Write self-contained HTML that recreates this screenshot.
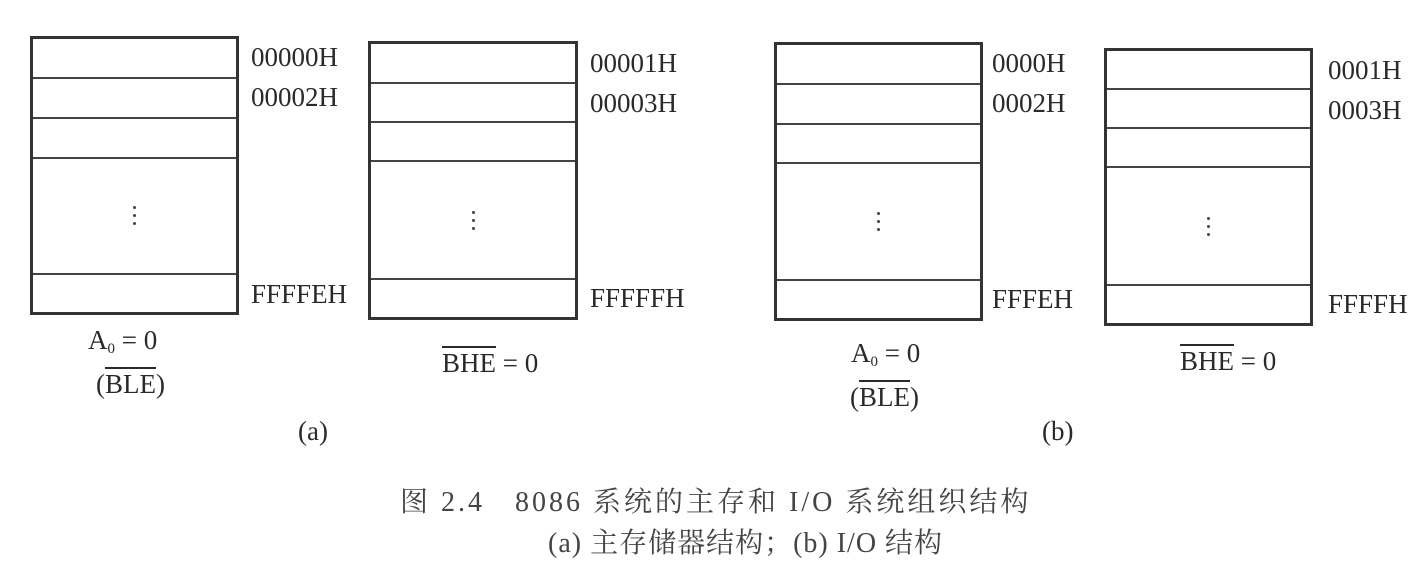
<!DOCTYPE html>
<html><head><meta charset="utf-8"><style>
body{margin:0;width:1415px;height:580px;background:#fff;position:relative;overflow:hidden;font-family:"Liberation Serif","Noto Serif CJK SC",serif;color:#2a2a2a}
.b{position:absolute;border:3px solid #333;box-sizing:border-box}
.l{position:absolute;left:0;right:0;height:0;border-top:2px solid #444}
.t{position:absolute;font-size:27px;line-height:1;white-space:nowrap}
.d{position:absolute;width:3px;height:3px;background:#444;border-radius:50%}
.ov{text-decoration:overline}
sub{font-size:15px;vertical-align:-4px}
</style></head><body>

<div class="b" style="left:30px;top:36px;width:209px;height:279px">
<div class="l" style="top:38px"></div><div class="l" style="top:78px"></div><div class="l" style="top:118px"></div><div class="l" style="top:234px"></div>
</div>
<div class="d" style="left:133px;top:206px"></div><div class="d" style="left:133px;top:214px"></div><div class="d" style="left:133px;top:222px"></div>
<div class="t" style="left:251px;top:44px">00000H</div>
<div class="t" style="left:251px;top:84px">00002H</div>
<div class="t" style="left:251px;top:281px">FFFFEH</div>
<div class="t" style="left:88px;top:327px">A<sub>0</sub> = 0</div>
<div class="t" style="left:96px;top:371px">(<span class="ov">BLE</span>)</div>

<div class="b" style="left:368px;top:41px;width:210px;height:279px">
<div class="l" style="top:38px"></div><div class="l" style="top:77px"></div><div class="l" style="top:116px"></div><div class="l" style="top:234px"></div>
</div>
<div class="d" style="left:472px;top:211px"></div><div class="d" style="left:472px;top:219px"></div><div class="d" style="left:472px;top:227px"></div>
<div class="t" style="left:590px;top:50px">00001H</div>
<div class="t" style="left:590px;top:90px">00003H</div>
<div class="t" style="left:590px;top:285px">FFFFFH</div>
<div class="t" style="left:442px;top:350px"><span class="ov">BHE</span> = 0</div>
<div class="t" style="left:298px;top:418px">(a)</div>

<div class="b" style="left:774px;top:42px;width:209px;height:279px">
<div class="l" style="top:38px"></div><div class="l" style="top:78px"></div><div class="l" style="top:117px"></div><div class="l" style="top:234px"></div>
</div>
<div class="d" style="left:877px;top:212px"></div><div class="d" style="left:877px;top:220px"></div><div class="d" style="left:877px;top:228px"></div>
<div class="t" style="left:992px;top:50px">0000H</div>
<div class="t" style="left:992px;top:90px">0002H</div>
<div class="t" style="left:992px;top:286px">FFFEH</div>
<div class="t" style="left:851px;top:340px">A<sub>0</sub> = 0</div>
<div class="t" style="left:850px;top:384px">(<span class="ov">BLE</span>)</div>

<div class="b" style="left:1104px;top:48px;width:209px;height:278px">
<div class="l" style="top:37px"></div><div class="l" style="top:76px"></div><div class="l" style="top:115px"></div><div class="l" style="top:233px"></div>
</div>
<div class="d" style="left:1207px;top:217px"></div><div class="d" style="left:1207px;top:225px"></div><div class="d" style="left:1207px;top:233px"></div>
<div class="t" style="left:1328px;top:57px">0001H</div>
<div class="t" style="left:1328px;top:97px">0003H</div>
<div class="t" style="left:1328px;top:291px">FFFFH</div>
<div class="t" style="left:1180px;top:348px"><span class="ov">BHE</span> = 0</div>
<div class="t" style="left:1042px;top:418px">(b)</div>

<div class="t" style="left:400px;top:489px;font-size:28px;letter-spacing:3px;color:#444">图 2.4&nbsp;&nbsp;&nbsp;8086 系统的主存和 I/O 系统组织结构</div>
<div class="t" style="left:548px;top:530px;font-size:28px;letter-spacing:1px;color:#444">(a) 主存储器结构；(b) I/O 结构</div>
</body></html>
